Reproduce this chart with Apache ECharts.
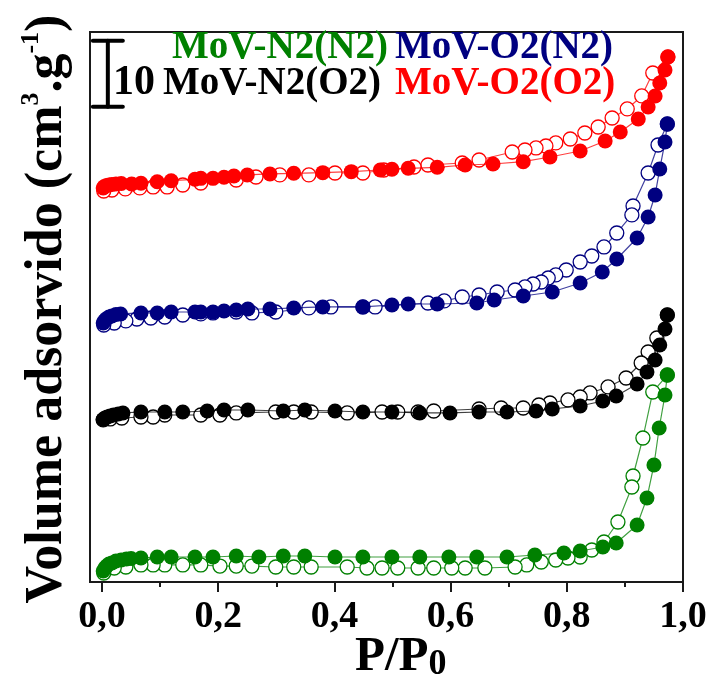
<!DOCTYPE html>
<html><head><meta charset="utf-8">
<script src="https://cdn.jsdelivr.net/npm/echarts@6/dist/echarts.min.js"></script>
<style>html,body{margin:0;padding:0;background:#fff}#c{width:713px;height:693px}</style>
</head><body><div id="c"></div>
<script>
// ---- data ----
const xTickValues = [0, 0.2, 0.4, 0.6, 0.8, 1.0];
const xMinorTickValues = [0.1, 0.3, 0.5, 0.7, 0.9];
const legendNames = ['MoV-N2(N2)', 'MoV-O2(N2)', 'MoV-N2(O2)', 'MoV-O2(O2)'];
const scaleBarLabel = '10';
const scaleBar = [[0.010, 72.0, 82.0]]; // x, y bottom, y top (10 units)

const n2n2Ads = [[0.002,1.67],[0.005,2.12],[0.008,2.42],[0.012,2.73],[0.017,2.88],[0.024,3.18],[0.033,3.33],[0.042,3.48],[0.050,3.56],[0.067,3.64],[0.095,3.79],[0.119,3.79],[0.160,3.79],[0.191,3.79],[0.231,3.94],[0.270,3.79],[0.312,3.94],[0.349,3.94],[0.401,3.79],[0.449,3.79],[0.499,3.79],[0.547,3.79],[0.597,3.79],[0.645,3.79],[0.697,3.79],[0.745,4.09],[0.795,4.39],[0.823,4.70],[0.862,5.30],[0.885,5.91],[0.921,8.64],[0.938,12.73],[0.950,17.73],[0.959,23.33],[0.969,28.33],[0.973,31.36]];
const n2n2Des = [[0.973,31.36],[0.948,28.79],[0.931,21.82],[0.914,16.06],[0.912,14.39],[0.888,9.09],[0.864,6.06],[0.843,4.85],[0.823,3.79],[0.802,3.64],[0.781,3.33],[0.756,3.03],[0.731,2.58],[0.711,2.27],[0.659,2.12],[0.625,2.12],[0.602,2.12],[0.571,2.12],[0.544,2.12],[0.509,2.12],[0.482,2.12],[0.456,2.12],[0.422,2.27],[0.360,2.27],[0.330,2.27],[0.299,2.27],[0.258,2.42],[0.231,2.42],[0.203,2.42],[0.170,2.58],[0.139,2.58],[0.108,2.58],[0.088,2.58],[0.067,2.58],[0.041,2.27],[0.021,2.12],[0.003,1.36]];

const n2o2Ads = [[0.002,24.62],[0.005,24.85],[0.009,25.0],[0.014,25.15],[0.020,25.30],[0.028,25.45],[0.036,25.61],[0.067,25.76],[0.108,25.76],[0.139,25.76],[0.181,25.91],[0.210,26.06],[0.251,26.06],[0.312,25.91],[0.349,26.06],[0.401,25.91],[0.449,25.76],[0.499,25.76],[0.547,25.61],[0.599,25.61],[0.649,25.76],[0.697,25.76],[0.747,25.91],[0.775,26.21],[0.823,26.67],[0.862,27.42],[0.885,28.18],[0.921,30.0],[0.938,31.82],[0.952,33.64],[0.960,35.91],[0.969,38.33],[0.973,40.45]];
const n2o2Des = [[0.973,40.45],[0.955,36.97],[0.940,34.85],[0.928,33.18],[0.902,30.91],[0.871,29.55],[0.840,28.64],[0.823,28.03],[0.802,27.58],[0.771,27.12],[0.752,26.82],[0.725,26.36],[0.687,26.36],[0.649,26.21],[0.571,25.91],[0.544,25.76],[0.509,25.76],[0.482,25.76],[0.422,25.61],[0.360,25.76],[0.330,25.76],[0.299,25.76],[0.231,25.61],[0.203,25.30],[0.170,25.30],[0.108,25.30],[0.088,25.0],[0.067,25.0],[0.034,24.85],[0.014,24.70],[0.002,24.55]];

const o2n2Ads = [[0.002,39.24],[0.004,39.55],[0.007,39.85],[0.012,40.15],[0.017,40.30],[0.024,40.53],[0.032,40.61],[0.067,40.76],[0.095,40.76],[0.119,40.91],[0.160,40.91],[0.170,40.91],[0.191,40.91],[0.210,41.06],[0.231,41.21],[0.251,41.36],[0.289,41.36],[0.330,41.52],[0.380,41.67],[0.449,41.67],[0.499,41.97],[0.527,42.12],[0.577,42.12],[0.645,42.27],[0.675,42.73],[0.725,43.33],[0.775,43.94],[0.823,45.30],[0.861,46.97],[0.886,48.94],[0.921,52.12],[0.940,55.30],[0.952,58.64],[0.960,62.58],[0.969,66.67],[0.973,69.39]];
const o2n2Des = [[0.973,69.39],[0.957,66.21],[0.940,61.97],[0.914,56.97],[0.912,55.61],[0.886,52.88],[0.864,50.76],[0.843,49.39],[0.823,48.48],[0.799,47.27],[0.781,46.52],[0.768,46.06],[0.756,45.45],[0.742,45.15],[0.728,44.70],[0.711,44.24],[0.680,43.94],[0.649,43.48],[0.620,43.18],[0.589,42.58],[0.561,42.27],[0.470,41.67],[0.449,41.67],[0.394,41.67],[0.356,41.52],[0.299,40.91],[0.258,40.76],[0.231,40.91],[0.191,40.76],[0.170,40.61],[0.139,40.45],[0.108,40.15],[0.084,40.0],[0.060,39.85],[0.041,39.55],[0.021,39.24],[0.003,38.94]];

const o2o2Ads = [[0.002,59.70],[0.004,59.92],[0.008,60.08],[0.012,60.15],[0.017,60.23],[0.024,60.30],[0.033,60.38],[0.051,60.30],[0.067,60.41],[0.095,60.65],[0.119,60.80],[0.160,61.01],[0.170,61.16],[0.191,61.16],[0.210,61.32],[0.227,61.52],[0.250,61.67],[0.289,61.82],[0.330,61.92],[0.380,62.02],[0.429,62.17],[0.479,62.42],[0.499,62.53],[0.527,62.68],[0.577,62.83],[0.625,63.18],[0.673,63.33],[0.725,63.68],[0.771,64.39],[0.823,65.30],[0.866,66.82],[0.892,68.18],[0.923,70.15],[0.940,71.97],[0.952,73.64],[0.960,75.61],[0.969,77.58],[0.974,79.55]];
const o2o2Des = [[0.974,79.55],[0.948,77.12],[0.929,73.64],[0.904,71.67],[0.878,70.30],[0.854,68.94],[0.831,68.03],[0.806,67.12],[0.781,66.52],[0.764,66.06],[0.747,65.76],[0.728,65.45],[0.706,65.15],[0.649,63.94],[0.620,63.48],[0.561,63.18],[0.537,62.88],[0.485,62.42],[0.449,61.97],[0.401,61.97],[0.356,61.67],[0.306,61.67],[0.265,61.36],[0.231,60.91],[0.170,60.45],[0.139,60.15],[0.112,59.85],[0.088,59.85],[0.065,59.70],[0.040,59.55],[0.017,59.39],[0.003,59.24]];

// ---- styles ----
const FONT = "'Liberation Serif','Times New Roman',serif";
const cGreen = '#008000', cBlue = '#000080', cBlack = '#000000', cRed = '#ff0000';

function openSeries(name, data, color) {
  return {
    name: name, type: 'line', data: data, xAxisIndex: 0,
    symbol: 'circle', symbolSize: 14, showSymbol: true,
    lineStyle: { color: color, width: 1.2, opacity: 0.75 },
    itemStyle: { color: '#ffffff', borderColor: color, borderWidth: 1.3 },
    animation: false, z: 2
  };
}
function filledSeries(name, data, color) {
  return {
    name: name, type: 'line', data: data, xAxisIndex: 0,
    symbol: 'circle', symbolSize: 15, showSymbol: true,
    lineStyle: { color: color, width: 1.2, opacity: 0.75 },
    itemStyle: { color: color, borderWidth: 0 },
    animation: false, z: 3
  };
}

const chart = echarts.init(document.getElementById('c'), null, { renderer: 'canvas' });
const fmt = v => v.toFixed(1).replace('.', ',');

chart.setOption({
  backgroundColor: '#ffffff',
  animation: false,
  grid: { left: 90, top: 32, right: 30, bottom: 111, show: true, borderColor: '#1a1a1a', borderWidth: 2, backgroundColor: 'transparent' },
  xAxis: [{
    type: 'value', min: -0.0207, max: 1.0,
    axisLine: { show: true, lineStyle: { color: '#1a1a1a', width: 2 } },
    splitLine: { show: false },
    axisTick: { show: true, inside: false, length: 10, customValues: xTickValues, lineStyle: { color: '#1a1a1a', width: 2 } },
    axisLabel: { show: true, customValues: xTickValues, formatter: fmt, margin: 16, color: '#000', fontFamily: FONT, fontWeight: 'bold', fontSize: 38 }
  }, {
    type: 'value', min: -0.0207, max: 1.0, position: 'bottom',
    axisLine: { show: false }, splitLine: { show: false },
    axisTick: { show: true, inside: false, length: 5, customValues: xMinorTickValues, lineStyle: { color: '#1a1a1a', width: 2 } },
    axisLabel: { show: false }
  }],
  yAxis: {
    type: 'value', min: 0, max: 83.33,
    axisLine: { show: false },
    axisTick: { show: false }, axisLabel: { show: false }, splitLine: { show: false }
  },
  series: [
    openSeries(legendNames[0] + ' des', n2n2Des, cGreen),
    openSeries(legendNames[2] + ' des', n2o2Des, cBlack),
    openSeries(legendNames[1] + ' des', o2n2Des, cBlue),
    openSeries(legendNames[3] + ' des', o2o2Des, cRed),
    filledSeries(legendNames[0], n2n2Ads, cGreen),
    filledSeries(legendNames[2], n2o2Ads, cBlack),
    filledSeries(legendNames[1], o2n2Ads, cBlue),
    filledSeries(legendNames[3], o2o2Ads, cRed),
    {
      type: 'custom', name: 'scale', data: scaleBar, encode: { x: 0, y: [1, 2] }, clip: false, z: 5,
      renderItem: function (params, api) {
        const p0 = api.coord([api.value(0), api.value(1)]);
        const p1 = api.coord([api.value(0), api.value(2)]);
        const hw = 15, st = { stroke: '#000', lineWidth: 4, lineCap: 'round' };
        return { type: 'group', children: [
          { type: 'line', shape: { x1: p0[0], y1: p0[1], x2: p1[0], y2: p1[1] }, style: st },
          { type: 'line', shape: { x1: p0[0] - hw, y1: p0[1], x2: p0[0] + hw, y2: p0[1] }, style: st },
          { type: 'line', shape: { x1: p1[0] - hw, y1: p1[1], x2: p1[0] + hw, y2: p1[1] }, style: st }
        ]};
      }
    }
  ],
  graphic: [
    { type: 'text', left: 113, top: 62, style: { text: scaleBarLabel, font: "bold 42px " + FONT, fill: '#000' } },
    { type: 'text', x: 172, y: 48, style: { text: legendNames[0], font: "bold 39px " + FONT, fill: cGreen, verticalAlign: 'middle', align: 'left' } },
    { type: 'text', x: 395, y: 48, style: { text: legendNames[1], font: "bold 39px " + FONT, fill: cBlue, verticalAlign: 'middle', align: 'left' } },
    { type: 'text', x: 163, y: 84, style: { text: legendNames[2], font: "bold 39px " + FONT, fill: cBlack, verticalAlign: 'middle', align: 'left' } },
    { type: 'text', x: 395, y: 84, style: { text: legendNames[3], font: "bold 39px " + FONT, fill: cRed, verticalAlign: 'middle', align: 'left' } },
    { type: 'text', x: 355, y: 633, style: {
        text: '{m|P/P}{s|0}', align: 'left', verticalAlign: 'top', fill: '#000',
        rich: {
          m: { fontSize: 49, fontWeight: 'bold', fontFamily: FONT, lineHeight: 50, verticalAlign: 'top', fill: '#000' },
          s: { fontSize: 36, fontWeight: 'bold', fontFamily: FONT, lineHeight: 36, padding: [24, 0, 0, 0], verticalAlign: 'bottom', fill: '#000' }
        } } },
    { type: 'text', x: 46, y: 309, rotation: Math.PI / 2, style: {
        text: '{m|Volume adsorvido (cm}{s|3}{m|.g}{s|-1}{m|)}', align: 'center', verticalAlign: 'middle', fill: '#000',
        rich: {
          m: { fontSize: 52, fontWeight: 'bold', fontFamily: FONT, lineHeight: 56, verticalAlign: 'bottom', fill: '#000' },
          s: { fontSize: 26, fontWeight: 'bold', fontFamily: FONT, lineHeight: 26, padding: [0, 0, 40, 0], verticalAlign: 'top', fill: '#000' }
        } } }
  ]
});
</script></body></html>
